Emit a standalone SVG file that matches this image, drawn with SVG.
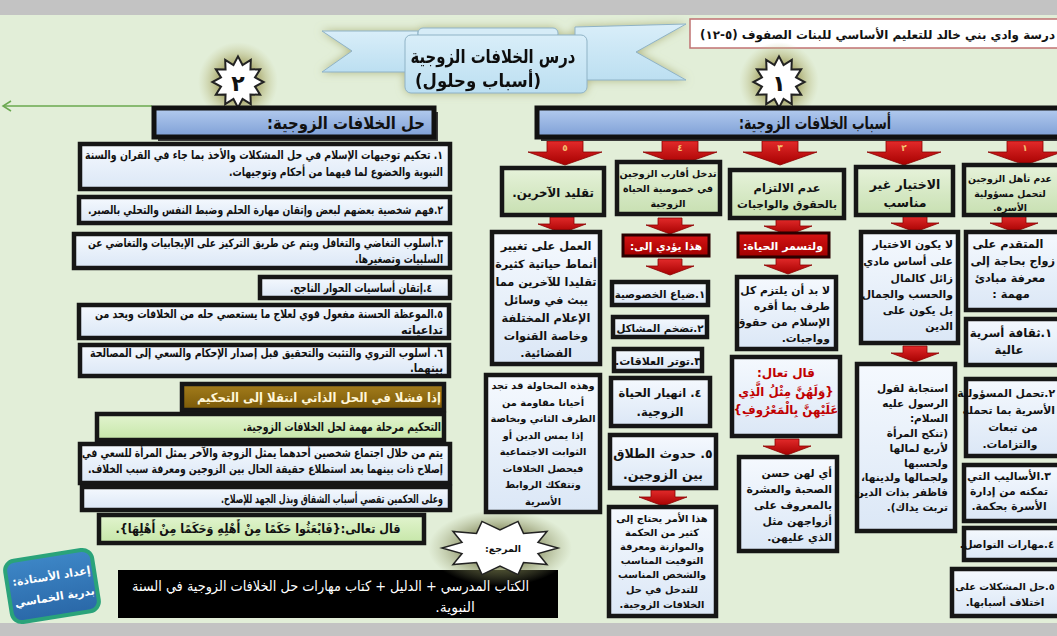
<svg xmlns="http://www.w3.org/2000/svg" width="1057" height="636" viewBox="0 0 1057 636">
<defs>
<style>
.t{font-family:"DejaVu Sans","Noto Sans",sans-serif;font-weight:bold;direction:rtl;fill:#111}
.m{text-anchor:middle}
.r{text-anchor:start}
.bx{stroke:#161616;stroke-width:4.5}
.bl{fill:url(#gB)}
.gr{fill:url(#gG)}
.lg{fill:url(#gL)}
.rd{fill:url(#gR);stroke:#2a0000;stroke-width:3}
.ar{fill:url(#gA);stroke:#8a0000;stroke-width:0.8}
.hd{fill:url(#gH);stroke:#111;stroke-width:5}
.n{font-family:"DejaVu Sans",sans-serif;font-weight:bold;font-size:9px;fill:#f3c070;text-anchor:middle}
</style>
<linearGradient id="gB" x1="0" y1="0" x2="0" y2="1"><stop offset="0" stop-color="#f5f9fe"/><stop offset="1" stop-color="#dbe7f6"/></linearGradient>
<linearGradient id="gG" x1="0" y1="0" x2="0" y2="1"><stop offset="0" stop-color="#e6f2da"/><stop offset="1" stop-color="#c8e0b2"/></linearGradient>
<linearGradient id="gL" x1="0" y1="0" x2="0" y2="1"><stop offset="0" stop-color="#e2f4cf"/><stop offset="1" stop-color="#c6e6a8"/></linearGradient>
<linearGradient id="gR" x1="0" y1="0" x2="0" y2="1"><stop offset="0" stop-color="#d81414"/><stop offset="1" stop-color="#a00000"/></linearGradient>
<linearGradient id="gA" x1="0" y1="0" x2="0" y2="1"><stop offset="0" stop-color="#e22a2a"/><stop offset="1" stop-color="#a60000"/></linearGradient>
<linearGradient id="gH" x1="0" y1="0" x2="0" y2="1"><stop offset="0" stop-color="#b4ccef"/><stop offset="1" stop-color="#7e9fd6"/></linearGradient>
<linearGradient id="gBr" x1="0" y1="0" x2="0" y2="1"><stop offset="0" stop-color="#a47d1c"/><stop offset="1" stop-color="#7a5908"/></linearGradient>
<linearGradient id="gRib" x1="0" y1="0" x2="0" y2="1"><stop offset="0" stop-color="#d9eef9"/><stop offset="1" stop-color="#bcdff1"/></linearGradient>
<linearGradient id="gPr" x1="0" y1="0" x2="0" y2="1"><stop offset="0" stop-color="#3d86c6"/><stop offset="1" stop-color="#2a68a8"/></linearGradient>
<radialGradient id="gGlow"><stop offset="0.5" stop-color="#a9a86c" stop-opacity="0.9"/><stop offset="1" stop-color="#c8cc9a" stop-opacity="0"/></radialGradient>
<radialGradient id="gGlow2"><stop offset="0.4" stop-color="#6d7040" stop-opacity="0.85"/><stop offset="1" stop-color="#9aa070" stop-opacity="0"/></radialGradient>
<filter id="sh" x="-20%" y="-40%" width="140%" height="180%"><feGaussianBlur in="SourceAlpha" stdDeviation="4" result="b"/><feFlood flood-color="#a6aa70" flood-opacity="0.8"/><feComposite in2="b" operator="in"/><feMerge><feMergeNode/><feMergeNode in="SourceGraphic"/></feMerge></filter>
<path id="aB" d="M-18,0H18V11H37L0,24L-37,11H-18Z"/>
<path id="aS" d="M-12,0H12V7H24L0,16L-24,7H-12Z"/>
<polygon id="star" points="0,-25.6 4.56,-17 12.8,-22.16 12.45,-12.45 22.16,-12.8 17,-4.56 25.6,0 17,4.56 22.16,12.8 12.45,12.45 12.8,22.16 4.56,17 0,25.6 -4.56,17 -12.8,22.16 -12.45,12.45 -22.16,12.8 -17,4.56 -25.6,0 -17,-4.56 -22.16,-12.8 -12.45,-12.45 -12.8,-22.16 -4.56,-17"/>
<marker id="mk" viewBox="-10 -6 12 12" refX="0" refY="0" markerWidth="12" markerHeight="12" markerUnits="userSpaceOnUse" orient="auto"><path d="M-8,-5L0,0L-8,5" fill="none" stroke="#6aa84f" stroke-width="1.5"/></marker>
</defs>

<rect x="0" y="0" width="1057" height="636" fill="#e2eed8"/>
<rect x="0" y="0" width="1057" height="15" fill="#c3c3c3"/>
<rect x="0" y="623" width="1057" height="13" fill="#c3c3c3"/>

<g id="school">
<rect x="690" y="19" width="372" height="29" fill="#fff" stroke="#c07272" stroke-width="1.5"/>
<text class="t r" x="1055" y="39" font-size="12" textLength="355" lengthAdjust="spacingAndGlyphs">درسة وادي بني خالد للتعليم الأساسي للبنات الصفوف (٥-١٢)</text>
</g>

<g id="title" filter="url(#sh)">
<polygon points="322,31 418,31 418,72 322,72 352,51" fill="url(#gRib)" stroke="#8fb3c6" stroke-width="1"/>
<polygon points="575,27 686,24 636,52 686,80 575,80" fill="url(#gRib)" stroke="#8fb3c6" stroke-width="1"/>
<rect x="418" y="28" width="140" height="11" rx="5" fill="#d6ecf7" stroke="#8fb3c6" stroke-width="1"/>
<rect x="405" y="35" width="182" height="58" rx="6" fill="url(#gRib)" stroke="#8fb3c6" stroke-width="1"/>
<text class="t m" x="493" y="63" font-size="19" textLength="165" lengthAdjust="spacingAndGlyphs">درس الخلافات الزوجية</text>
<text class="t m" x="478" y="87" font-size="18" textLength="126" lengthAdjust="spacingAndGlyphs">(أسباب وحلول)</text>
</g>

<g id="star2">
<circle cx="238" cy="82" r="40" fill="url(#gGlow)"/>
<use href="#star" x="238" y="82" fill="#fff" stroke="#222" stroke-width="2"/>
<text class="t m" x="238" y="91" font-size="22">٢</text>
</g>
<g id="star1">
<circle cx="779" cy="82" r="40" fill="url(#gGlow)"/>
<use href="#star" x="779" y="82" fill="#fff" stroke="#222" stroke-width="2"/>
<text class="t m" x="779" y="91" font-size="22">١</text>
</g>

<g id="connectors">
<line x1="152" y1="106" x2="3" y2="106" stroke="#6aa84f" stroke-width="1.5" marker-end="url(#mk)"/>
<use href="#aB" class="ar" x="1025" y="141"/>
<use href="#aB" class="ar" x="904" y="141"/>
<use href="#aB" class="ar" x="780" y="141"/>
<use href="#aB" class="ar" x="680" y="141"/>
<use href="#aB" class="ar" x="565" y="141"/>
<text class="n" x="1025" y="151">١</text>
<text class="n" x="904" y="151">٢</text>
<text class="n" x="780" y="151">٣</text>
<text class="n" x="680" y="151">٤</text>
<text class="n" x="565" y="151">٥</text>
<use href="#aS" class="ar" x="562" y="217"/>
<use href="#aS" class="ar" x="670" y="218"/>
<use href="#aS" class="ar" x="670" y="259"/>
<use href="#aS" class="ar" x="788" y="219"/>
<use href="#aS" class="ar" x="788" y="258"/>
<use href="#aS" class="ar" x="915" y="216"/>
<use href="#aS" class="ar" x="915" y="346"/>
<use href="#aS" class="ar" x="1014" y="216"/>
<use href="#aS" class="ar" x="787" y="439"/>
<use href="#aS" class="ar" x="663" y="490"/>
</g>

<g id="headL">
<rect x="158" y="112" width="280" height="29" fill="#3a3a3a"/>
<rect class="hd" x="154" y="108" width="280" height="29"/>
<text class="t r" x="425" y="129" font-size="17" textLength="158" lengthAdjust="spacingAndGlyphs">حل الخلافات الزوجية:</text>
</g>
<g id="headR">
<rect x="541" y="112" width="525" height="29" fill="#3a3a3a"/>
<rect class="hd" x="537" y="108" width="525" height="29"/>
<text class="t m" x="815" y="129" font-size="17" textLength="152" lengthAdjust="spacingAndGlyphs">أسباب الخلافات الزوجية:</text>
</g>

<g id="sol1"><rect class="bx bl" x="80" y="144" width="370" height="45"/>
<text class="t r" x="443" y="159" font-size="11.5" textLength="358" lengthAdjust="spacingAndGlyphs">١. تحكيم توجيهات الإسلام في حل المشكلات والأخذ بما جاء في القران والسنة</text>
<text class="t r" x="443" y="176" font-size="11.5" textLength="214" lengthAdjust="spacingAndGlyphs">النبوية والخضوع لما فيهما من أحكام وتوجيهات.</text></g>
<g id="sol2"><rect class="bx bl" x="79" y="197" width="371" height="26"/>
<text class="t r" x="443" y="214" font-size="11.5" textLength="355" lengthAdjust="spacingAndGlyphs">٢.فهم شخصية بعضهم لبعض وإتقان مهارة الحلم وضبط النفس والتحلي بالصبر.</text></g>
<g id="sol3"><rect class="bx bl" x="74" y="234" width="376" height="34"/>
<text class="t r" x="443" y="247" font-size="11.5" textLength="355" lengthAdjust="spacingAndGlyphs">٣.أسلوب التغاضي والتغافل ويتم عن طريق التركيز على الإيجابيات والتغاضي عن</text>
<text class="t r" x="443" y="263" font-size="11.5" textLength="88" lengthAdjust="spacingAndGlyphs">السلبيات وتصغيرها.</text></g>
<g id="sol4"><rect class="bx bl" x="260" y="277" width="190" height="21"/>
<text class="t r" x="432" y="292" font-size="11.5" textLength="142" lengthAdjust="spacingAndGlyphs">٤.إتقان أساسيات الحوار الناجح.</text></g>
<g id="sol5"><rect class="bx bl" x="79" y="305" width="370" height="33"/>
<text class="t r" x="443" y="318" font-size="11.5" textLength="348" lengthAdjust="spacingAndGlyphs">٥.الموعظة الحسنة مفعول قوي لعلاج ما يستعصي حله من الخلافات ويحد من</text>
<text class="t r" x="443" y="334" font-size="11.5" textLength="42" lengthAdjust="spacingAndGlyphs">تداعياته</text></g>
<g id="sol6"><rect class="bx bl" x="80" y="345" width="369" height="31"/>
<text class="t r" x="443" y="357" font-size="11.5" textLength="353" lengthAdjust="spacingAndGlyphs">٦. أسلوب التروي والتثبت والتحقيق قبل إصدار الإحكام والسعي إلى المصالحة</text>
<text class="t r" x="443" y="372" font-size="11.5" textLength="33" lengthAdjust="spacingAndGlyphs">بينهما.</text></g>
<g id="fail"><rect class="bx" fill="url(#gBr)" x="182" y="384" width="262" height="26"/>
<text class="t r" x="441" y="402" font-size="12.5" textLength="244" lengthAdjust="spacingAndGlyphs" style="fill:#fff6d8">إذا فشلا في الحل الذاتي انتقلا إلى التحكيم</text></g>
<g id="arb1"><rect class="bx lg" x="97" y="414" width="347" height="26"/>
<text class="t r" x="441" y="431" font-size="12" textLength="198" lengthAdjust="spacingAndGlyphs">التحكيم مرحلة مهمة لحل الخلافات الزوجية.</text></g>
<g id="arb2"><rect class="bx bl" x="80" y="444" width="370" height="39"/>
<text class="t r" x="443" y="457" font-size="11.5" textLength="361" lengthAdjust="spacingAndGlyphs">يتم من خلال اجتماع شخصين أحدهما يمثل الزوجة والآخر يمثل المرأة للسعي في</text>
<text class="t r" x="443" y="473" font-size="11.5" textLength="355" lengthAdjust="spacingAndGlyphs">إصلاح ذات بينهما بعد استطلاع حقيقة الحال بين الزوجين ومعرفة سبب الخلاف.</text></g>
<g id="arb3"><rect class="bx bl" x="82" y="487" width="368" height="23"/>
<text class="t r" x="443" y="503" font-size="11.5" textLength="222" lengthAdjust="spacingAndGlyphs">وعلى الحكمين تقصي أسباب الشقاق وبذل الجهد للإصلاح.</text></g>
<g id="arb4"><rect class="bx lg" x="99" y="515" width="325" height="28"/>
<text class="t m" x="258" y="533" font-size="12.5" textLength="285" lengthAdjust="spacingAndGlyphs">قال تعالى:{فَابْعَثُوا حَكَمًا مِنْ أَهْلِهِ وَحَكَمًا مِنْ أَهْلِهَا}.</text></g>

<g id="ref">
<rect x="118" y="570" width="440" height="48" fill="#000"/>
<text class="t r" x="529" y="591" font-size="14" textLength="397" lengthAdjust="spacingAndGlyphs" style="fill:#fff;font-weight:normal">الكتاب المدرسي + الدليل + كتاب مهارات حل الخلافات الزوجية في السنة</text>
<text class="t r" x="475" y="612" font-size="14" style="fill:#fff;font-weight:normal">النبوية.</text>
</g>
<g id="refstar">
<ellipse cx="500" cy="548" rx="72" ry="38" fill="url(#gGlow2)"/>
<polygon points="558,548 538,553.6 547,564.5 523.5,562.6 518,574.6 500,566 482,574.6 476.5,562.6 453,564.5 462,553.6 442,548 462,542.4 453,531.5 476.5,533.4 482,521.4 500,530 518,521.4 523.5,533.4 547,531.5 538,542.4" fill="#fff" stroke="#222" stroke-width="1.5"/>
<text class="t m" x="503" y="552" font-size="9.5">المرجع:</text>
</g>

<g id="author" transform="rotate(-9 52 586)">
<rect x="8" y="555" width="88" height="62" rx="10" fill="url(#gPr)" stroke="#2aa37a" stroke-width="4"/>
<text class="t m" x="53" y="580" font-size="11" style="fill:#fff">إعداد الأستاذة:</text>
<text class="t m" x="53" y="601" font-size="11" style="fill:#fff">بدرية الخماسي</text>
</g>

<!-- cause 1 -->
<g id="c1"><rect class="bx gr" x="964" y="165" width="98" height="50"/>
<text class="t m" x="1010" y="182" font-size="9.3">عدم تأهل الزوجين</text>
<text class="t m" x="1010" y="197" font-size="9.3">لتحمل مسؤولية</text>
<text class="t m" x="1010" y="211" font-size="9.3">الأسرة.</text></g>
<g id="c1a"><rect class="bx bl" x="966" y="232" width="96" height="78"/>
<text class="t m" x="1008" y="248" font-size="11.3">المتقدم على</text>
<text class="t r" x="1055" y="265" font-size="11.3">زواج بحاجة إلى</text>
<text class="t m" x="1010" y="282" font-size="11.3">معرفة مبادئ</text>
<text class="t m" x="1011" y="298" font-size="11.3">مهمة :</text></g>
<g id="c1b"><rect class="bx bl" x="966" y="319" width="96" height="46"/>
<text class="t m" x="1011" y="337" font-size="11.8">١.ثقافة أسرية</text>
<text class="t m" x="1009" y="354" font-size="11.8">عالية</text></g>
<g id="c1c"><rect class="bx bl" x="966" y="379" width="96" height="77"/>
<text class="t r" x="1055" y="397" font-size="10.8">٢.تحمل المسؤولية</text>
<text class="t r" x="1055" y="414" font-size="10.8">الأسرية بما تحمله</text>
<text class="t m" x="1013" y="431" font-size="10.8">من تبعات</text>
<text class="t m" x="1010" y="448" font-size="10.8">والتزامات.</text></g>
<g id="c1d"><rect class="bx bl" x="964" y="465" width="98" height="56"/>
<text class="t m" x="1009" y="480" font-size="10.8">٣.الأساليب التي</text>
<text class="t m" x="1009" y="495" font-size="10.8">تمكنه من إدارة</text>
<text class="t m" x="1009" y="510" font-size="10.8">الأسرة بحكمة.</text></g>
<g id="c1e"><rect class="bx bl" x="964" y="528" width="98" height="32"/>
<text class="t m" x="1007" y="548" font-size="10.2">٤.مهارات التواصل.</text></g>
<g id="c1f"><rect class="bx bl" x="952" y="569" width="110" height="47"/>
<text class="t m" x="1005" y="590" font-size="9.8">٥.حل المشكلات على</text>
<text class="t m" x="1005" y="606" font-size="10.3">اختلاف أسبابها.</text></g>

<!-- cause 2 -->
<g id="c2"><rect class="bx gr" x="856" y="167" width="97" height="48"/>
<text class="t m" x="905" y="189" font-size="12.5">الاختيار غير</text>
<text class="t m" x="905" y="207" font-size="12.5">مناسب</text></g>
<g id="c2a"><rect class="bx bl" x="861" y="232" width="97" height="111"/>
<text class="t r" x="953" y="248" font-size="10.8">لا يكون الاختيار</text>
<text class="t r" x="953" y="265" font-size="10.8">على أساس مادي</text>
<text class="t r" x="953" y="282" font-size="10.8">زائل  كالمال</text>
<text class="t r" x="953" y="298" font-size="10.8">والحسب والجمال</text>
<text class="t r" x="953" y="314" font-size="10.8">بل يكون على</text>
<text class="t r" x="953" y="330" font-size="10.8">الدين</text></g>
<g id="c2b"><rect class="bx bl" x="857" y="364" width="98" height="167"/>
<text class="t r" x="948" y="392" font-size="10.5">استجابة لقول</text>
<text class="t r" x="948" y="407" font-size="10.5">الرسول عليه</text>
<text class="t r" x="948" y="422" font-size="10.5">السلام:</text>
<text class="t r" x="948" y="437" font-size="10.5">(تنكح المرأة</text>
<text class="t r" x="948" y="452" font-size="10.5">لأربع لمالها</text>
<text class="t r" x="948" y="467" font-size="10.5">ولحسبها</text>
<text class="t r" x="948" y="481" font-size="10.5">ولجمالها ولدينها،</text>
<text class="t r" x="948" y="496" font-size="10.5">فاظفر بذات الدين</text>
<text class="t r" x="948" y="511" font-size="10.5">تربت يداك).</text></g>

<!-- cause 3 -->
<g id="c3"><rect class="bx gr" x="730" y="170" width="114" height="48"/>
<text class="t m" x="787" y="192" font-size="11.3">عدم الالتزام</text>
<text class="t m" x="787" y="208" font-size="10.8">بالحقوق والواجبات</text></g>
<g id="c3a"><rect class="rd" x="738" y="233" width="91" height="24"/>
<text class="t m" x="783" y="250" font-size="11" style="fill:#fff">ولتسمر الحياة:</text></g>
<g id="c3b"><rect class="bx bl" x="737" y="277" width="99" height="72"/>
<text class="t r" x="830" y="294" font-size="10.8">لا بد أن يلتزم كل</text>
<text class="t r" x="830" y="310" font-size="10.8">طرف بما أقره</text>
<text class="t r" x="830" y="326" font-size="10.8">الإسلام من حقوق</text>
<text class="t r" x="830" y="342" font-size="10.8">وواجبات.</text></g>
<g id="c3c"><rect class="bx bl" x="732" y="357" width="108" height="79"/>
<text class="t m" x="786" y="377" font-size="12" style="fill:#c00000">قال تعال:</text>
<text class="t m" x="786" y="396" font-size="11.8" style="fill:#c00000">{وَلَهُنَّ مِثْلُ الَّذِي</text>
<text class="t m" x="786" y="414" font-size="11.8" style="fill:#c00000">عَلَيْهِنَّ بِالْمَعْرُوفِ}</text></g>
<g id="c3d"><rect class="bx bl" x="739" y="457" width="98" height="94"/>
<text class="t r" x="832" y="477" font-size="10.8">أي لهن حسن</text>
<text class="t r" x="832" y="493" font-size="10.8">الصحبة والعشرة</text>
<text class="t r" x="832" y="509" font-size="10.8">بالمعروف على</text>
<text class="t r" x="832" y="525" font-size="10.8">أزواجهن مثل</text>
<text class="t r" x="832" y="541" font-size="10.8">الذي عليهن.</text></g>

<!-- cause 4 -->
<g id="c4"><rect class="bx gr" x="617" y="162" width="103" height="52"/>
<text class="t m" x="668" y="177" font-size="9.5">تدخل أقارب الزوجين</text>
<text class="t m" x="668" y="192" font-size="9.5">في خصوصية الحياة</text>
<text class="t m" x="668" y="207" font-size="9.5">الزوجية</text></g>
<g id="c4a"><rect class="rd" x="623" y="235" width="86" height="21"/>
<text class="t m" x="666" y="250" font-size="10.5" style="fill:#fff">هذا يؤدي إلى:</text></g>
<g id="c4b"><rect class="bx bl" x="612" y="282" width="96" height="23"/>
<text class="t m" x="660" y="298" font-size="10.3">١.ضياع الخصوصية</text></g>
<g id="c4c"><rect class="bx bl" x="613" y="317" width="94" height="20"/>
<text class="t m" x="660" y="332" font-size="10.3">٢.تضخم المشاكل</text></g>
<g id="c4d"><rect class="bx bl" x="614" y="349" width="88" height="22"/>
<text class="t m" x="658" y="365" font-size="11">٣.توتر العلاقات.</text></g>
<g id="c4e"><rect class="bx bl" x="611" y="378" width="99" height="48"/>
<text class="t m" x="660" y="397" font-size="11.5">٤. انهيار الحياة</text>
<text class="t m" x="660" y="416" font-size="11.5">الزوجية.</text></g>
<g id="c4f"><rect class="bx bl" x="610" y="435" width="106" height="53"/>
<text class="t m" x="663" y="458" font-size="12.5">٥. حدوث الطلاق</text>
<text class="t m" x="663" y="479" font-size="12.5">بين الزوجين.</text></g>
<g id="c4g"><rect class="bx bl" x="609" y="507" width="107" height="109"/>
<text class="t m" x="662" y="522" font-size="9.8">هذا الأمر يحتاج إلى</text>
<text class="t m" x="662" y="536" font-size="9.8">كثير من الحكمة</text>
<text class="t m" x="662" y="550" font-size="9.8">والموازنة ومعرفة</text>
<text class="t m" x="662" y="564" font-size="9.8">التوقيت المناسب</text>
<text class="t m" x="662" y="578" font-size="9.8">والشخص المناسب</text>
<text class="t m" x="662" y="593" font-size="9.8">للتدخل في حل</text>
<text class="t m" x="662" y="608" font-size="9.8">الخلافات الزوجية.</text></g>

<!-- cause 5 -->
<g id="c5"><rect class="bx gr" x="502" y="168" width="102" height="47"/>
<text class="t m" x="553" y="197" font-size="11.8">تقليد الآخرين.</text></g>
<g id="c5a"><rect class="bx bl" x="492" y="232" width="108" height="132"/>
<text class="t m" x="546" y="250" font-size="11.3">العمل على تغيير</text>
<text class="t m" x="546" y="268" font-size="11.3">أنماط حياتية كثيرة</text>
<text class="t m" x="546" y="286" font-size="11.3">تقليدا للآخرين مما</text>
<text class="t m" x="546" y="304" font-size="11.3">يبث في وسائل</text>
<text class="t m" x="546" y="322" font-size="11.3">الإعلام المختلفة</text>
<text class="t m" x="546" y="340" font-size="11.3">وخاصة القنوات</text>
<text class="t m" x="546" y="357" font-size="11.3">الفضائية.</text></g>
<g id="c5b"><rect class="bx bl" x="486" y="375" width="114" height="137"/>
<text class="t m" x="543" y="389" font-size="9.8">وهذه المحاولة قد تجد</text>
<text class="t m" x="543" y="405.5" font-size="9.8">أحيانا مقاومة من</text>
<text class="t m" x="543" y="422" font-size="9.8">الطرف الثاني وبخاصة</text>
<text class="t m" x="543" y="438.5" font-size="9.8">إذا يمس الدين أو</text>
<text class="t m" x="543" y="455" font-size="9.8">الثوابت الاجتماعية</text>
<text class="t m" x="543" y="471.5" font-size="9.8">فيحصل الخلافات</text>
<text class="t m" x="543" y="488" font-size="9.8">وتتفكك الروابط</text>
<text class="t m" x="543" y="504.5" font-size="9.8">الأسرية</text></g>
</svg>
